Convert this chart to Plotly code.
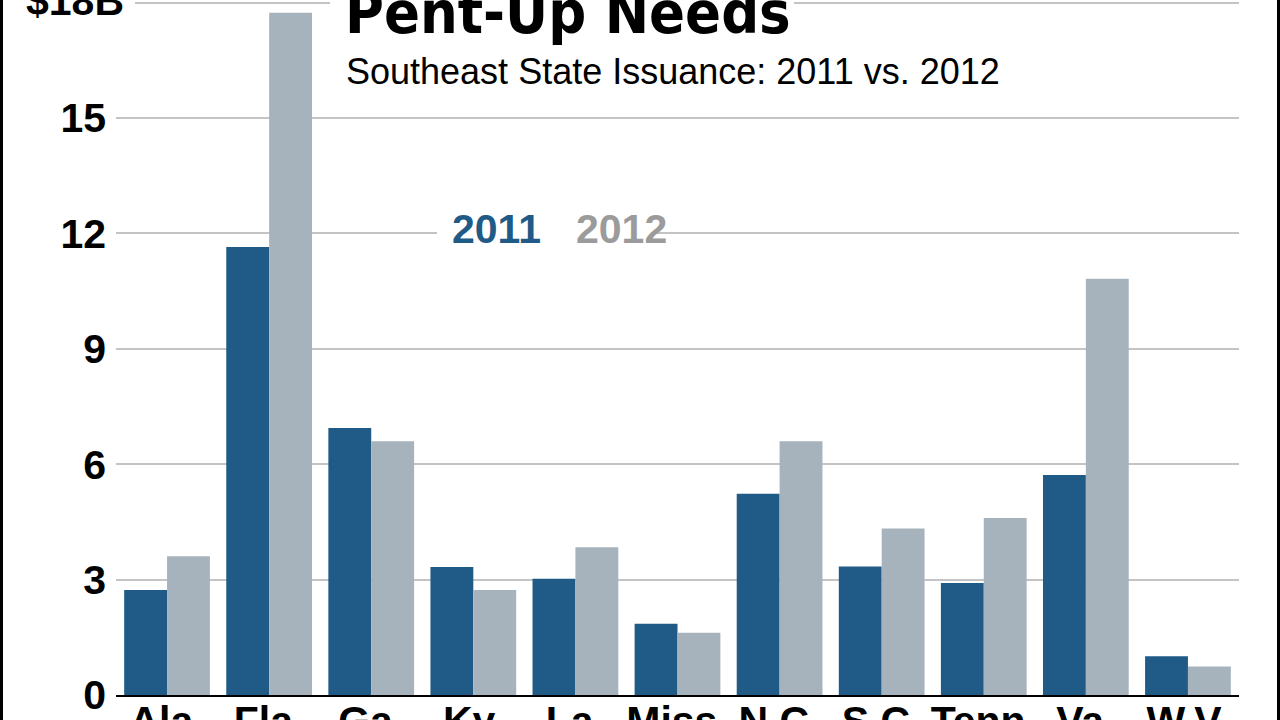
import plotly.graph_objects as go

states = ["Ala.", "Fla.", "Ga.", "Ky.", "La.", "Miss.", "N.C.", "S.C.", "Tenn.", "Va.", "W.V."]
v2011 = [2.73, 11.65, 6.94, 3.33, 3.02, 1.85, 5.23, 3.34, 2.91, 5.72, 1.01]
v2012 = [3.61, 17.74, 6.60, 2.73, 3.84, 1.62, 6.60, 4.33, 4.60, 10.82, 0.74]
ytickvals = [0, 3, 6, 9, 12, 15, 18]
yticktext = ["0", "3", "6", "9", "12", "15", ""]

C2011 = "#1f5b86"
C2012 = "#a7b3bc"
W, H = 1280, 720
L, R, T, B = 116, 41, 0, 25
PW, PH = W - L - R, H - T - B


def px(p):
    return (p - L) / PW


def py(p):
    return (H - B - p) / PH


BOLD = "Liberation Sans, Arial, Helvetica, sans-serif"

fig = go.Figure()
fig.add_trace(go.Bar(x=states, y=v2011, name="2011", marker=dict(color=C2011, line=dict(width=0))))
fig.add_trace(go.Bar(x=states, y=v2012, name="2012", marker=dict(color=C2012, line=dict(width=0))))

fig.update_layout(
    width=W, height=H,
    template="none",
    paper_bgcolor="white", plot_bgcolor="white",
    margin=dict(l=L, r=R, t=T, b=B, autoexpand=False),
    barmode="group", bargap=0.16, bargroupgap=0,
    showlegend=False,
    font=dict(family=BOLD, color="black"),
)
fig.update_xaxes(
    automargin=False, range=[-0.5, 10.5],
    showline=True, linecolor="black", linewidth=2,
    showgrid=False, ticks="", zeroline=False,
    tickfont=dict(family=BOLD, size=41, color="black", weight="bold"),
    ticklabelstandoff=-11,
)
fig.update_yaxes(
    automargin=False, range=[0, 18.07],
    tickvals=ytickvals, ticktext=yticktext,
    showgrid=True, gridcolor="#c4c4c4", gridwidth=2,
    zeroline=False, showline=False, ticks="",
    tickfont=dict(family=BOLD, size=41, color="black", weight="bold"),
    ticklabelstandoff=9,
)

shapes = []
# white masks interrupting gridlines
shapes.append(dict(type="rect", xref="paper", yref="paper", x0=px(108), x1=px(135), y0=py(12), y1=py(-5),
                   fillcolor="white", line=dict(width=0), layer="above"))
shapes.append(dict(type="rect", xref="paper", yref="paper", x0=px(330), x1=px(794), y0=py(12), y1=py(-5),
                   fillcolor="white", line=dict(width=0), layer="above"))
shapes.append(dict(type="rect", xref="paper", yref="paper", x0=px(437), x1=px(651), y0=py(245), y1=py(215),
                   fillcolor="white", line=dict(width=0), layer="above"))
# frame lines
for xx in (1.5, 1278.5):
    shapes.append(dict(type="line", xref="paper", yref="paper", x0=px(xx), x1=px(xx), y0=py(-10), y1=py(730),
                       line=dict(color="black", width=3), layer="above"))
fig.update_layout(shapes=shapes)

ann = []
ann.append(dict(text="<b>$18B</b>", xref="paper", yref="paper", x=px(126), y=py(1), xanchor="right", yanchor="middle",
                showarrow=False, font=dict(family=BOLD, size=41, color="black")))
ann.append(dict(text="<b>Pent-Up Needs</b>", xref="paper", yref="paper", x=px(343), y=py(49), xanchor="left", yanchor="bottom",
                showarrow=False, font=dict(family="Liberation Sans Narrow, DejaVu Sans Condensed, Arial Narrow, sans-serif", size=59, color="black")))
ann.append(dict(text="Southeast State Issuance: 2011 vs. 2012", xref="paper", yref="paper", x=px(344), y=py(71), xanchor="left", yanchor="middle",
                showarrow=False, font=dict(family="Liberation Sans, Arial, sans-serif", size=36, color="black")))
ann.append(dict(text="<b>2011</b>", xref="paper", yref="paper", x=px(496), y=py(229), xanchor="center", yanchor="middle",
                showarrow=False, font=dict(family=BOLD, size=41, color=C2011)))
ann.append(dict(text="<b>2012</b>", xref="paper", yref="paper", x=px(621), y=py(229), xanchor="center", yanchor="middle",
                showarrow=False, font=dict(family=BOLD, size=41, color="#9b9b9b")))
fig.update_layout(annotations=ann)

fig.write_html("out.html", config={"displayModeBar": False, "staticPlot": True},
               post_script="document.body.style.margin='0px';document.body.style.overflow='hidden';")
